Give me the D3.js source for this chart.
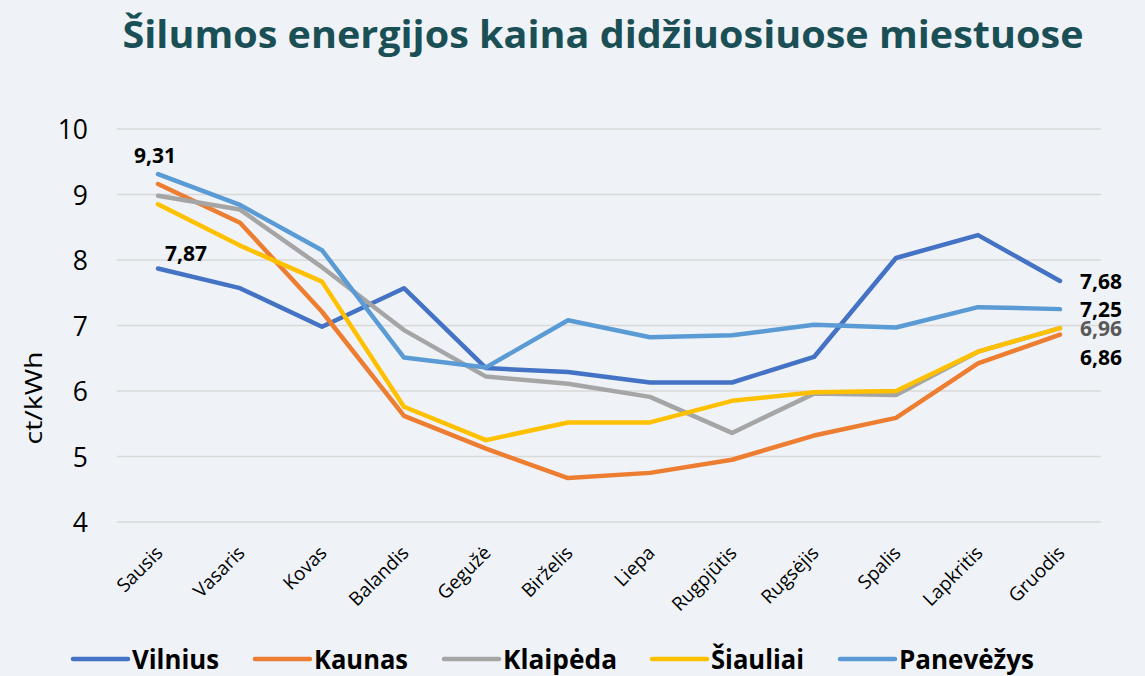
<!DOCTYPE html>
<html><head><meta charset="utf-8">
<script src="https://cdn.jsdelivr.net/npm/d3@7"></script>
<style>
html,body{margin:0;padding:0;background:#eff3f7;}
svg{display:block;}
</style></head>
<body><svg id="c" width="1145" height="676"></svg>
<script>
const months = ["Sausis","Vasaris","Kovas","Balandis","Gegužė","Birželis","Liepa","Rugpjūtis","Rugsėjis","Spalis","Lapkritis","Gruodis"];
const cities = ["Vilnius","Kaunas","Klaipėda","Šiauliai","Panevėžys"];
const vilnius   = [7.87,7.57,6.98,7.57,6.35,6.29,6.13,6.13,6.52,8.03,8.38,7.68];
const kaunas    = [9.16,8.57,7.21,5.62,5.12,4.67,4.75,4.95,5.32,5.59,6.42,6.86];
const klaipeda  = [8.98,8.77,7.89,6.93,6.22,6.11,5.91,5.36,5.96,5.94,6.60,6.96];
const siauliai  = [8.85,8.22,7.67,5.76,5.25,5.52,5.52,5.85,5.98,6.00,6.60,6.96];
const panevezys = [9.31,8.84,8.15,6.51,6.36,7.08,6.82,6.85,7.01,6.97,7.28,7.25];
const yTicks = [4,5,6,7,8,9,10];
const colors = ["#4472C4","#ED7D31","#A5A5A5","#FFC000","#5B9BD5"];
const series = [vilnius,kaunas,klaipeda,siauliai,panevezys];

const svg = d3.select("#c");
const x = d3.scaleBand().domain(months).range([117,1101]);
const y = d3.scaleLinear().domain([4,10]).range([522,129]);
const font = "'Open Sans', sans-serif";

// title
svg.append("text").attr("x",603).attr("y",48).attr("text-anchor","middle")
  .attr("font-family",font).attr("font-weight",700).attr("font-size",38)
  .attr("fill","#1b4f56").attr("textLength",961).attr("lengthAdjust","spacingAndGlyphs")
  .text("Šilumos energijos kaina didžiuosiuose miestuose");

// gridlines
svg.append("g").selectAll("line").data(yTicks).join("line")
  .attr("x1",117).attr("x2",1101).attr("y1",d=>y(d)).attr("y2",d=>y(d))
  .attr("stroke","#d9d9d9").attr("stroke-width",1.5);

// y axis
const yAxis = svg.append("g").attr("transform","translate(88,0)")
  .call(d3.axisLeft(y).tickValues(yTicks).tickSize(0).tickPadding(0).tickFormat(d3.format("d")));
yAxis.select(".domain").remove();
yAxis.selectAll("text").attr("font-family",font).attr("font-size",26.5).attr("fill","#000").attr("dy","0.36em");

svg.append("text").attr("transform","translate(42,398) rotate(-90)").attr("text-anchor","middle")
  .attr("font-family",font).attr("font-size",24.5).attr("fill","#000")
  .attr("textLength",93).attr("lengthAdjust","spacingAndGlyphs").text("ct/kWh");

// x axis
const xAxis = svg.append("g").attr("transform","translate(0,538)")
  .call(d3.axisBottom(x).tickSize(0).tickPadding(0));
xAxis.select(".domain").remove();
xAxis.selectAll("text").attr("font-family",font).attr("font-size",19).attr("fill","#000")
  .attr("text-anchor","end").attr("dy",0)
  .attr("transform","translate(6,16) rotate(-45)");

// lines
const line = d3.line().x((d,i)=>x(months[i])+x.bandwidth()/2).y(d=>y(d));
svg.append("g").selectAll("path").data(series).join("path")
  .attr("d",d=>line(d)).attr("fill","none").attr("stroke",(d,i)=>colors[i])
  .attr("stroke-width",4.5).attr("stroke-linejoin","round").attr("stroke-linecap","round");

// data labels
const cx = i => x(months[i])+x.bandwidth()/2;
const fmt = v => v.toFixed(2).replace(".",",");
const lab = (txt,xx,yy,col,anchor) => svg.append("text").attr("x",xx).attr("y",yy)
  .attr("text-anchor",anchor||"middle").attr("font-family",font).attr("font-weight",700)
  .attr("font-size",21).attr("fill",col||"#000").text(txt);
lab(fmt(panevezys[0]), cx(0)-3, y(panevezys[0])-11);
lab(fmt(vilnius[0]), cx(0)+28, y(vilnius[0])-8);
lab(fmt(vilnius[11]), cx(11)+20, y(vilnius[11])+8, "#000", "start");
lab(fmt(panevezys[11]), cx(11)+20, y(panevezys[11])+8, "#000", "start");
lab(fmt(klaipeda[11]), cx(11)+20, y(klaipeda[11])+8, "#595959", "start");
lab(fmt(kaunas[11]), cx(11)+20, y(kaunas[11])+30, "#000", "start");

// legend
const legX = [73,255,444,652,840];
const legW = [87,94,114,93,135];
const lg = svg.append("g").selectAll("g").data(cities).join("g")
  .attr("transform",(d,i)=>`translate(${legX[i]},659)`);
lg.append("line").attr("x1",0).attr("x2",55).attr("stroke",(d,i)=>colors[i])
  .attr("stroke-width",4.5).attr("stroke-linecap","round");
lg.append("text").attr("x",59).attr("y",10).attr("font-family",font).attr("font-weight",700)
  .attr("font-size",26).attr("fill","#000")
  .attr("textLength",(d,i)=>legW[i]).attr("lengthAdjust","spacingAndGlyphs").text(d=>d);
</script></body></html>
